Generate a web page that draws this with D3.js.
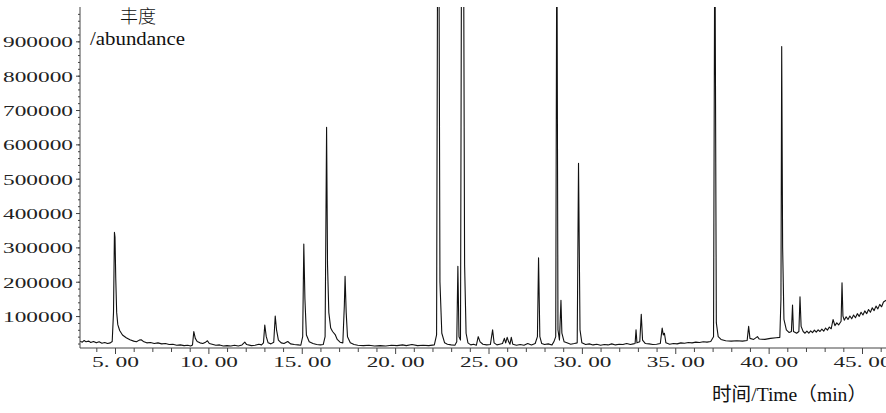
<!DOCTYPE html>
<html>
<head>
<meta charset="utf-8">
<script src="https://cdn.jsdelivr.net/npm/d3@7/dist/d3.min.js"></script>
<style>
  html, body { margin: 0; padding: 0; background: #fff; }
  svg { display: block; }
</style>
</head>
<body>
<svg id="chart" width="886" height="413"></svg>
<script>
// ---- data ----
const timeTicks = [5, 10, 15, 20, 25, 30, 35, 40, 45];
const timeTickLabels = ["5. 00", "10. 00", "15. 00", "20. 00", "25. 00", "30. 00", "35. 00", "40. 00", "45. 00"];
const abundanceTicks = [100000, 200000, 300000, 400000, 500000, 600000, 700000, 800000, 900000];
const abundanceTickLabels = ["100000", "200000", "300000", "400000", "500000", "600000", "700000", "800000", "900000"];
const yTitleLines = ["丰度", "/abundance"];
const xTitle = "时间/Time（min）";

// [retention time (min), abundance]
const chromatogram = [
  [3.13,27000],[3.25,24000],[3.35,29000],[3.45,25000],[3.6,27000],[3.7,23000],[3.85,26000],[4.0,22000],
  [4.15,25000],[4.3,21000],[4.45,23000],[4.6,20000],[4.75,22000],[4.85,26000],[4.92,110000],[4.97,344000],
  [5.0,330000],[5.04,210000],[5.09,110000],[5.15,75000],[5.25,58000],[5.4,45000],[5.6,37000],[5.8,31000],
  [6.0,27000],[6.15,25000],[6.3,30000],[6.4,31000],[6.55,25000],[6.7,22000],[6.9,23000],[7.1,20000],
  [7.3,22000],[7.5,19000],[7.7,20000],[7.9,17000],[8.1,18000],[8.3,15000],[8.5,16000],[8.7,14000],
  [8.9,15000],[9.05,13000],[9.15,16000],[9.22,55000],[9.3,35000],[9.4,26000],[9.55,22000],[9.7,20000],
  [9.85,24000],[9.95,28000],[10.05,20000],[10.2,18000],[10.4,15000],[10.6,16000],[10.8,13000],[11.0,14000],
  [11.2,13000],[11.4,15000],[11.6,13000],[11.8,16000],[11.95,24000],[12.05,17000],[12.3,14000],[12.5,15000],
  [12.7,18000],[12.85,16000],[12.95,22000],[13.02,74000],[13.1,40000],[13.2,22000],[13.35,19000],[13.5,24000],
  [13.58,100000],[13.65,60000],[13.75,30000],[13.9,22000],[14.05,20000],[14.25,26000],[14.4,19000],[14.6,17000],
  [14.8,16000],[14.95,15000],[15.05,40000],[15.11,310000],[15.17,150000],[15.25,45000],[15.4,25000],[15.6,20000],
  [15.8,17000],[16.0,16000],[16.15,17000],[16.25,40000],[16.33,650000],[16.38,250000],[16.45,110000],[16.55,65000],
  [16.65,55000],[16.8,45000],[16.9,32000],[17.05,24000],[17.2,22000],[17.28,130000],[17.32,216000],[17.38,110000],
  [17.45,40000],[17.6,22000],[17.8,17000],[18.0,15000],[18.3,14000],[18.6,15000],[18.9,13000],[19.2,14000],
  [19.5,13000],[19.8,15000],[20.1,14000],[20.4,16000],[20.6,14000],[20.9,17000],[21.2,14000],[21.5,15000],
  [21.8,14000],[22.1,16000],[22.22,45000],[22.28,1300000],[22.34,1300000],[22.4,200000],[22.5,50000],
  [22.65,22000],[22.8,18000],[23.0,16000],[23.2,15000],[23.3,25000],[23.36,245000],[23.42,40000],[23.5,30000],
  [23.56,1300000],[23.66,1300000],[23.72,250000],[23.8,50000],[23.9,22000],[24.05,16000],[24.2,18000],
  [24.35,15000],[24.45,40000],[24.55,25000],[24.7,18000],[24.9,16000],[25.1,17000],[25.22,60000],[25.3,22000],
  [25.45,16000],[25.6,18000],[25.75,20000],[25.85,35000],[25.92,22000],[26.0,38000],[26.08,25000],[26.15,18000],
  [26.22,38000],[26.3,18000],[26.5,15000],[26.7,17000],[26.9,15000],[27.1,20000],[27.3,16000],[27.5,20000],
  [27.62,40000],[27.68,270000],[27.75,40000],[27.85,20000],[28.0,17000],[28.2,19000],[28.4,16000],[28.5,25000],
  [28.6,40000],[28.66,1300000],[28.72,60000],[28.8,30000],[28.88,146000],[28.93,50000],[29.05,25000],[29.2,22000],
  [29.4,18000],[29.6,20000],[29.75,22000],[29.82,545000],[29.9,60000],[30.0,22000],[30.2,17000],[30.4,19000],
  [30.6,16000],[30.8,18000],[31.0,15000],[31.2,17000],[31.4,16000],[31.6,19000],[31.8,16000],[32.0,18000],
  [32.2,17000],[32.4,20000],[32.6,17000],[32.75,19000],[32.85,20000],[32.9,60000],[32.95,22000],[33.1,25000],
  [33.18,105000],[33.25,30000],[33.4,20000],[33.6,19000],[33.8,17000],[34.0,18000],[34.2,20000],[34.3,65000],
  [34.36,45000],[34.42,50000],[34.5,22000],[34.7,18000],[34.9,20000],[35.1,19000],[35.3,22000],[35.5,21000],
  [35.7,23000],[35.9,22000],[36.1,24000],[36.3,23000],[36.5,25000],[36.7,24000],[36.9,26000],[37.05,40000],
  [37.12,1300000],[37.2,80000],[37.3,40000],[37.45,32000],[37.7,28000],[38.0,27000],[38.3,28000],[38.6,27000],
  [38.85,29000],[38.93,70000],[39.0,35000],[39.2,32000],[39.4,40000],[39.5,33000],[39.8,32000],[40.1,35000],
  [40.4,37000],[40.6,38000],[40.66,150000],[40.7,885000],[40.75,300000],[40.82,90000],[40.95,60000],[41.1,52000],
  [41.22,55000],[41.28,132000],[41.33,55000],[41.5,50000],[41.62,55000],[41.68,156000],[41.74,70000],[41.85,55000],
  [41.95,50000],[42.05,56000],[42.15,50000],[42.25,57000],[42.35,52000],[42.45,59000],[42.55,53000],[42.65,60000],
  [42.75,55000],[42.85,62000],[42.95,56000],[43.05,65000],[43.15,59000],[43.25,68000],[43.35,63000],[43.45,90000],
  [43.55,72000],[43.65,80000],[43.75,74000],[43.88,85000],[43.93,197000],[43.98,100000],[44.05,88000],[44.15,98000],
  [44.25,90000],[44.35,100000],[44.45,92000],[44.55,103000],[44.65,95000],[44.75,107000],[44.85,99000],[44.95,111000],
  [45.05,103000],[45.15,115000],[45.25,107000],[45.35,119000],[45.45,111000],[45.55,124000],[45.65,116000],[45.75,129000],
  [45.85,121000],[45.95,134000],[46.05,127000],[46.15,141000],[46.29,146000]
];

// ---- layout ----
const svg = d3.select("#chart");
const plot = { left: 80, right: 886, top: 7, bottom: 348 };

const x = d3.scaleLinear().domain([5, 45]).range([115, 862]);
const y = d3.scaleLinear().domain([7000, 1000000]).range([plot.bottom, plot.top]);

const axisColor = "#444";
const serif = "'Liberation Serif', 'DejaVu Serif', serif";
const cjk = "'Noto Sans CJK SC', sans-serif";

// clip
svg.append("defs").append("clipPath").attr("id", "plotclip")
  .append("rect").attr("x", plot.left).attr("y", plot.top)
  .attr("width", plot.right - plot.left).attr("height", plot.bottom - plot.top);

// trace
const line = d3.line().x(d => x(d[0])).y(d => y(d[1]));
svg.append("path")
  .datum(chromatogram)
  .attr("clip-path", "url(#plotclip)")
  .attr("fill", "none")
  .attr("stroke", "#111")
  .attr("stroke-width", 1.1)
  .attr("stroke-linejoin", "round")
  .attr("d", line);

// ---- y axis ----
const yMinor = d3.range(20000, 1000000, 20000).filter(v => v > 7000);
svg.append("g").attr("transform", `translate(${plot.left},0)`)
  .call(d3.axisLeft(y).tickValues(yMinor).tickSize(2).tickFormat(""))
  .call(g => g.select(".domain").remove())
  .call(g => g.selectAll("line").attr("stroke", axisColor));

const yAxisG = svg.append("g").attr("transform", `translate(${plot.left},0)`)
  .call(d3.axisLeft(y).tickValues(abundanceTicks).tickSize(4).tickSizeOuter(0)
    .tickFormat((d, i) => abundanceTickLabels[i]));
yAxisG.select(".domain").attr("stroke", axisColor).attr("d", `M0,${plot.top}V${plot.bottom}`);
yAxisG.selectAll(".tick line").attr("stroke", axisColor);
yAxisG.selectAll(".tick text")
  .attr("x", -7).attr("dy", "0.36em")
  .attr("fill", "#222")
  .style("font-family", serif).style("font-size", "15px")
  .attr("textLength", 70).attr("lengthAdjust", "spacingAndGlyphs");

// ---- x axis ----
const xMinor = d3.range(4, 47, 1).filter(v => v % 5 !== 0);
svg.append("g").attr("transform", `translate(0,${plot.bottom})`)
  .call(d3.axisBottom(x).tickValues(xMinor).tickSize(4).tickFormat(""))
  .call(g => g.select(".domain").remove())
  .call(g => g.selectAll("line").attr("stroke", axisColor));

const xAxisG = svg.append("g").attr("transform", `translate(0,${plot.bottom})`)
  .call(d3.axisBottom(x).tickValues(timeTicks).tickSize(6).tickSizeOuter(0)
    .tickFormat((d, i) => timeTickLabels[i]));
xAxisG.select(".domain").attr("stroke", axisColor).attr("d", `M${plot.left},0H${plot.right}`);
xAxisG.selectAll(".tick line").attr("stroke", axisColor);
xAxisG.selectAll(".tick text")
  .attr("y", 19).attr("dy", 0)
  .attr("fill", "#222")
  .style("font-family", serif).style("font-size", "15px")
  .attr("textLength", (d, i) => timeTickLabels[i].length === 5 ? 47 : 58)
  .attr("lengthAdjust", "spacingAndGlyphs");

// ---- titles ----
svg.append("text")
  .attr("x", 138).attr("y", 23).attr("text-anchor", "middle")
  .style("font-family", cjk).style("font-size", "18px").style("font-weight", 300)
  .attr("fill", "#111")
  .text(yTitleLines[0]);
svg.append("text")
  .attr("x", 90).attr("y", 45)
  .style("font-family", serif).style("font-size", "19px")
  .attr("fill", "#111")
  .attr("textLength", 95).attr("lengthAdjust", "spacingAndGlyphs")
  .text(yTitleLines[1]);

svg.append("text")
  .attr("x", 712).attr("y", 401)
  .style("font-family", "'Liberation Serif', 'Noto Sans CJK SC', serif").style("font-size", "19px")
  .attr("fill", "#111")
  .attr("textLength", 155).attr("lengthAdjust", "spacingAndGlyphs")
  .text(xTitle);
</script>
</body>
</html>
